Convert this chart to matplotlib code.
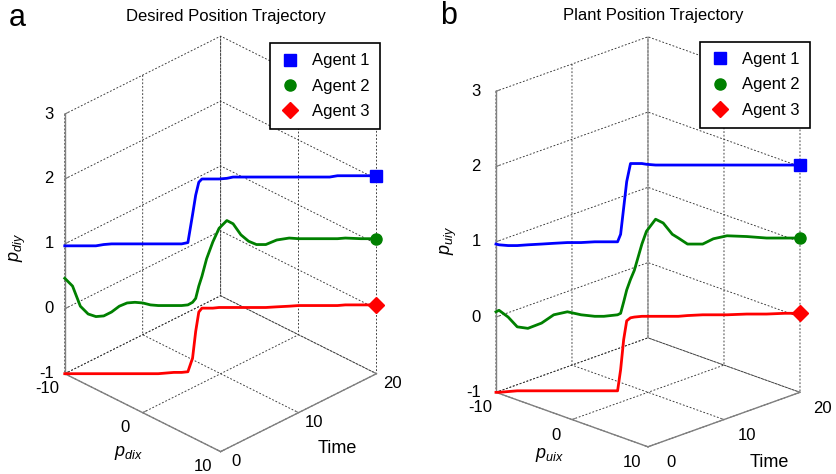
import matplotlib
matplotlib.use("Agg")
import matplotlib.pyplot as plt
from matplotlib.lines import Line2D
from mpl_toolkits.mplot3d import proj3d

plt.rcParams['font.family'] = ['Liberation Sans', 'DejaVu Sans']
plt.rcParams['mathtext.fontset'] = 'custom'
plt.rcParams['mathtext.it'] = 'Liberation Sans:italic'
plt.rcParams['mathtext.rm'] = 'Liberation Sans'
plt.rcParams['axes.unicode_minus'] = False
plt.rcParams['grid.color'] = '0.2'
plt.rcParams['grid.linestyle'] = (0, (2.0, 2.0))
plt.rcParams['grid.linewidth'] = 0.65

# ---- panel a : desired position trajectory ----
time_a = [0, 0.5, 1, 1.5, 2, 2.5, 3, 3.5, 4, 4.5, 5, 5.5, 6, 6.5, 7, 7.5, 7.9, 8.2, 8.4,
          8.6, 8.8, 9.1, 9.5, 9.9, 10.4, 10.8, 11.3, 11.8, 12.3, 12.9, 13.6, 14.4, 15,
          16, 17, 17.5, 18, 19, 20]
px_a = [-10, -9.5, -9, -8.5, -8, -7.5, -7, -6.5, -6, -5.5, -5, -4.5, -4, -3.5, -3, -2.5,
        -2.1, -1.8, -1.6, -1.4, -1.2, -0.9, -0.5, -0.1, 0.4, 0.8, 1.3, 1.8, 2.3, 2.9, 3.6,
        4.4, 5, 6, 7, 7.5, 8, 9, 10]
py_a1 = [0.97, 0.97, 0.97, 0.97, 0.97, 0.99, 1.0, 1.0, 1.0, 1.0, 1.0, 1.0, 1.0, 1.0, 1.0,
         1.0, 1.02, 1.45, 1.75, 1.95, 2.0, 2.0, 2.0, 2.0, 2.01, 2.03, 2.03, 2.03, 2.03, 2.03,
         2.03, 2.03, 2.03, 2.03, 2.03, 2.05, 2.05, 2.05, 2.05]
py_a2 = [0.47, 0.35, 0.04, -0.08, -0.12, -0.11, -0.05, 0.04, 0.09, 0.1, 0.09, 0.06, 0.05,
         0.05, 0.05, 0.05, 0.06, 0.1, 0.16, 0.35, 0.5, 0.77, 1.03, 1.24, 1.36, 1.31, 1.14,
         1.04, 0.99, 0.99, 1.06, 1.09, 1.08, 1.08, 1.08, 1.08, 1.09, 1.08, 1.08]
py_a3 = [-1.0, -1.0, -1.0, -1.0, -1.0, -1.0, -1.0, -1.0, -1.0, -1.0, -1.0, -1.0, -1.0,
         -0.99, -0.98, -0.98, -0.97, -0.76, -0.35, -0.05, 0.01, 0.01, 0.01, 0.02, 0.02,
         0.02, 0.02, 0.02, 0.02, 0.02, 0.03, 0.04, 0.05, 0.05, 0.05, 0.05, 0.06, 0.06, 0.06]

# ---- panel b : plant position trajectory ----
time_b = [0, 0.2, 0.8, 1.4, 2.1, 3, 3.8, 4.7, 5.6, 6.5, 7.1, 8, 8.2, 8.4, 8.6, 8.85, 9.1,
          9.6, 9.9, 10.5, 11, 11.6, 12, 12.6, 13.6, 14.3, 15.2, 16.5, 17.8, 19, 20]
px_b = [-10, -9.8, -9.2, -8.6, -7.9, -7, -6.2, -5.3, -4.4, -3.5, -2.9, -2, -1.8, -1.6, -1.4,
        -1.15, -0.9, -0.4, -0.1, 0.5, 1, 1.6, 2, 2.6, 3.6, 4.3, 5.2, 6.5, 7.8, 9, 10]
py_b1 = [0.97, 0.96, 0.95, 0.95, 0.96, 0.97, 0.98, 0.99, 0.99, 1.0, 1.0, 1.0, 1.1, 1.45,
         1.8, 2.04, 2.04, 2.04, 2.03, 2.02, 2.02, 2.02, 2.02, 2.02, 2.02, 2.02, 2.02, 2.02,
         2.02, 2.02, 2.02]
py_b2 = [0.07, 0.09, 0.0, -0.13, -0.15, -0.08, 0.03, 0.07, 0.03, 0.01, 0.01, 0.03, 0.05,
         0.2, 0.36, 0.5, 0.62, 0.97, 1.14, 1.3, 1.25, 1.1, 1.05, 0.97, 0.97, 1.04, 1.08,
         1.07, 1.05, 1.05, 1.05]
py_b3 = [-1.0, -1.0, -0.99, -0.98, -0.98, -0.98, -0.98, -0.98, -0.98, -0.98, -0.98, -0.98,
         -0.7, -0.3, -0.05, -0.01, 0.0, 0.01, 0.01, 0.01, 0.01, 0.01, 0.01, 0.02, 0.03,
         0.03, 0.03, 0.04, 0.04, 0.05, 0.05]

agents = ['Agent 1', 'Agent 2', 'Agent 3']
colors = ['#0000ff', '#008000', '#ff0000']
markers = ['s', 'o', 'D']
x_ticks = [-10, 0, 10]
t_ticks = [0, 10, 20]
z_ticks = [-1, 0, 1, 2, 3]


def label_at(ax, x, y, z, s, **kw):
    # project a 3d point with the axes' own projection, then write a 2d text there
    u, v, _ = proj3d.proj_transform(x, y, z, ax.get_proj())
    ax.text2D(u, v, s, transform=ax.transData, fontsize=12, va='center', **kw)


def draw_panel(ax, px, time, series, elev, azim, aspect, zoom, xoff, toff, zoff, tzoff, zlab_off):
    ax.set_proj_type('ortho')
    ax.view_init(elev=elev, azim=azim)
    ax.set_box_aspect(aspect, zoom=zoom)
    for py, c, m in zip(series, colors, markers):
        ax.plot(px, time, py, color=c, lw=2.0)
        ax.plot(px[-1:], time[-1:], py[-1:], color=c, marker=m, ms=8, linestyle='none')
    ax.set_xlim(-10, 10)
    ax.set_ylim(0, 20)
    ax.set_zlim(-1, 3)
    ax.set_xticks(x_ticks)
    ax.set_yticks(t_ticks)
    ax.set_zticks(z_ticks)
    ax.zaxis.set_ticks_position('lower')
    ax.tick_params(axis='x', color='0.5', labelbottom=False, labelleft=False)
    ax.tick_params(axis='y', color='0.5', labelbottom=False, labelleft=False)
    ax.tick_params(axis='z', color='0.5', labelbottom=False, labelleft=False)
    for axis in (ax.xaxis, ax.yaxis, ax.zaxis):
        axis.set_pane_color((1, 1, 1, 0))
        axis.line.set_color('0.5')
        axis.line.set_linewidth(1.0)
        axis.label.set_visible(False)
        axis.offsetText.set_visible(False)
        axis._axinfo['tick']['inward_factor'] = 0.0
        axis._axinfo['tick']['outward_factor'] = 0.25
    # tick labels placed just outside the box edges (MATLAB style)
    for v in x_ticks:
        label_at(ax, v, -toff, -1 - zoff, str(v), ha='center')
    for v in t_ticks:
        label_at(ax, 10 + xoff, v, -1 - tzoff, str(v), ha='center')
    for v in z_ticks:
        label_at(ax, -10 - zlab_off, -zlab_off, v, str(v), ha='right')


fig = plt.figure(figsize=(8.36, 4.74), dpi=100)
ax_a = fig.add_axes([-0.0134, -0.0474, 0.54, 1.04], projection='3d')
ax_b = fig.add_axes([0.4978, -0.043, 0.54, 1.04], projection='3d')

draw_panel(ax_a, px_a, time_a, [py_a1, py_a2, py_a3], 30, -45, (1, 1, 1.36), 0.93,
           2.0, 2.3, 0.09, 0.03, 0.7)
draw_panel(ax_b, px_b, time_b, [py_b1, py_b2, py_b3], 21, -45, (1, 1, 1.5), 0.953,
           3.0, 2.1, 0.13, 0.1, 1.0)

# axis labels
fig.text(0.154, 0.044, '$p_{dix}$', ha='center', va='center', fontsize=13)
fig.text(0.404, 0.053, 'Time', ha='center', va='center', fontsize=13)
fig.text(0.022, 0.479, '$p_{diy}$', ha='center', va='center', fontsize=13, rotation=90)
fig.text(0.657, 0.040, '$p_{uix}$', ha='center', va='center', fontsize=13)
fig.text(0.920, 0.025, 'Time', ha='center', va='center', fontsize=13)
fig.text(0.537, 0.493, '$p_{uiy}$', ha='center', va='center', fontsize=13, rotation=90)

handles = [Line2D([], [], color=c, marker=m, linestyle='none', ms=8)
           for c, m in zip(colors, markers)]
for anchor in ((0.323, 0.909), (0.837, 0.912)):
    leg = fig.legend(handles, agents, loc='upper left', bbox_to_anchor=anchor,
                     fontsize=12, fancybox=False, framealpha=1, edgecolor='black',
                     handlelength=1.2, handletextpad=0.7, labelspacing=0.62,
                     borderpad=0.62, borderaxespad=0)
    leg.get_frame().set_linewidth(1.2)

fig.text(0.27, 0.965, 'Desired Position Trajectory', ha='center', va='center', fontsize=12)
fig.text(0.781, 0.967, 'Plant Position Trajectory', ha='center', va='center', fontsize=12)
fig.text(0.01, 0.962, 'a', ha='left', va='center', fontsize=22)
fig.text(0.527, 0.966, 'b', ha='left', va='center', fontsize=22)

fig.savefig('out.png', dpi=100)
